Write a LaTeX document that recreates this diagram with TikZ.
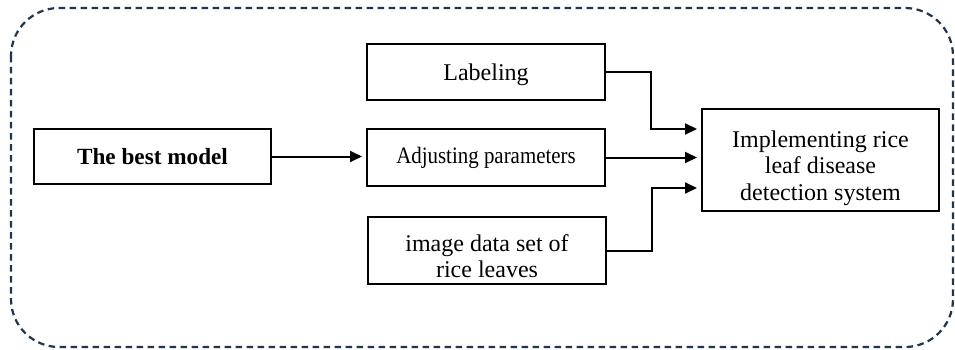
\documentclass[tikz,border=0pt]{standalone}
\usepackage{fontspec}
\setmainfont{Liberation Serif}
\usetikzlibrary{arrows.meta,calc}
\definecolor{framenavy}{HTML}{1F3550}
\begin{document}
\begin{tikzpicture}[x=1pt,y=-1pt,
  box/.style={draw=black,line width=2pt,fill=white,inner sep=0pt,align=center,
    font=\fontsize{24}{26.5}\selectfont},
  txt/.style={inner sep=0pt,align=center,font=\fontsize{24}{26.5}\selectfont},
  link/.style={line width=2pt,-{Triangle[length=12pt,width=11pt]},shorten >=4pt}]
  \useasboundingbox (0,0) rectangle (955,350);
  % outer dashed frame
  \draw[framenavy,line width=2.2pt,dash pattern=on 6.5pt off 4.5pt,rounded corners=48pt]
    (11,8) rectangle (953,347);
  % boxes
  \node[box,minimum width=237pt,minimum height=55pt,font=\fontsize{23.2}{27}\selectfont\bfseries]
    (best) at (152.5,156.5) {The best model};
  \node[box,minimum width=238pt,minimum height=56pt] (lab) at (486,72) {};
  \node[txt] (labtxt) at (486,75) {Labeling};
  \node[box,minimum width=238pt,minimum height=57pt,font=\fontsize{23.5}{26.5}\selectfont]
    (adj) at (486,157.5) {\scalebox{0.89}[1]{Adjusting parameters}};
  \node[box,minimum width=238pt,minimum height=67pt] (img) at (487,250.5) {};
  \node[txt] (imgtxt) at (487,256) {image data set of\\rice leaves};
  \node[box,minimum width=237pt,minimum height=102pt] (impl) at (820.5,160) {};
  \node[txt] (impltxt) at (820.5,168) {Implementing rice\\leaf disease\\detection system};
  % connectors
  \draw[link] (best.east) -- (best.east -| adj.west);
  \draw[link] (lab.east) -- ++(45,0) |- ([yshift=31pt]impl.west);
  \draw[link] (adj.east) -- (adj.east -| impl.west);
  \draw[link] (img.east) -- ++(45,0) |- ([yshift=-28pt]impl.west);
\end{tikzpicture}
\end{document}
